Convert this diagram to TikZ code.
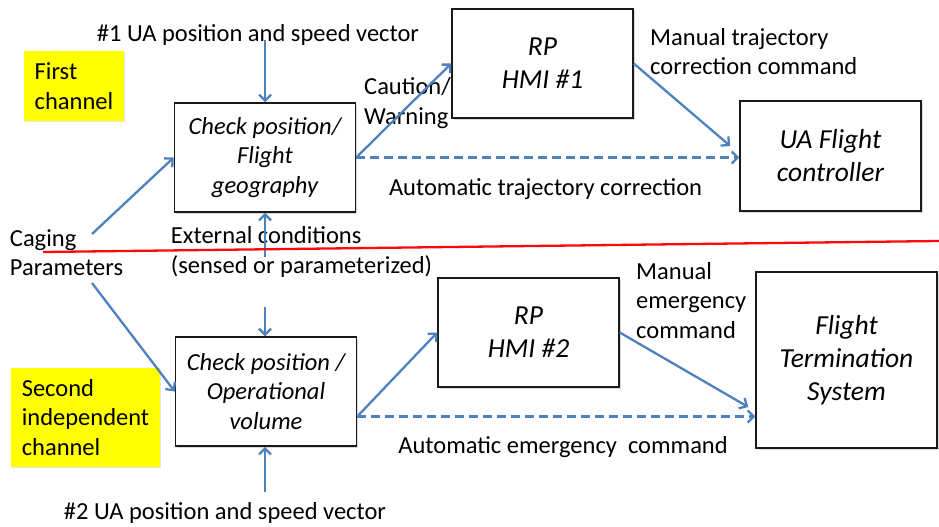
\documentclass[tikz,border=0pt]{standalone}
\usepackage{fontspec}
\setmainfont{Carlito}
\usetikzlibrary{
  arrows.meta,
  calc,
  shadows
}
\definecolor{cageBlue}{RGB}{79,129,189}
\definecolor{cageRed}{RGB}{250,10,10}
\definecolor{cageYellow}{RGB}{255,255,0}
\definecolor{cageLine}{RGB}{25,25,25}
\newcommand{\cagefont}{\fontsize{24.5}{29.5}\selectfont}
\newcommand{\cagebigfont}{\fontsize{27.5}{33}\selectfont}
\tikzset{
  cagebox/.style={
    draw=cageLine,
    line width=1.5pt,
    fill=white,
    align=center,
    minimum width=181pt,
    minimum height=109pt,
    inner sep=2pt,
    font=\cagefont\itshape,
    drop shadow={shadow xshift=1.5pt, shadow yshift=-1.5pt, opacity=0.3}
  },
  cagebig/.style={
    cagebox,
    font=\cagebigfont\itshape
  },
  chantag/.style={
    fill=cageYellow,
    align=left,
    inner sep=0pt,
    font=\cagefont,
    drop shadow={shadow xshift=1pt, shadow yshift=-1pt, opacity=0.2}
  },
  cagetext/.style={
    align=left,
    inner sep=0pt,
    font=\cagefont
  },
  cagearrow/.style={
    -{Straight Barb[length=6pt,width=12pt]},
    line width=2.3pt,
    draw=cageBlue
  },
  cagedashed/.style={
    cagearrow,
    dash pattern=on 9pt off 5pt
  }
}

\begin{document}
\begin{tikzpicture}[x=1pt, y=-1pt]
  \useasboundingbox (0,0) rectangle (939,527);

  % channel tags
  \node[chantag, minimum width=100pt, minimum height=70pt] (tag1) at (74,86)
    {First\\channel};
  \node[chantag, minimum width=149pt, minimum height=99pt] (tag2) at (85.5,417.5)
    {Second\\independent\\channel};

  % first channel
  \node[cagebox] (chk1) at (265,157.5) {Check position/\\Flight\\geography};
  \node[cagebig] (hmi1) at (542.5,63.5) {RP\\HMI \#1};
  \node[cagebig, minimum height=110pt] (fc) at (830.5,156) {UA Flight\\controller};

  % second channel
  \node[cagebox] (chk2) at (266,391.5) {Check position /\\Operational\\volume};
  \node[cagebig] (hmi2) at (528.5,332.5) {RP\\HMI \#2};
  \node[cagebig, minimum height=176pt] (fts) at (846.5,360)
    {Flight\\Termination\\System};

  % labels
  \node[cagetext] (pos1) at (258,35) {\#1 UA position and speed vector};
  \node[cagetext] (pos2) at (225,513) {\#2 UA position and speed vector};
  \node[cagetext] (cage) at (66.5,252.5) {Caging\\Parameters};
  \node[cagetext] (ext) at (301.5,252) {External conditions\\(sensed or parameterized)};
  \node[cagetext, anchor=west] (warn) at (364,103) {Caution/\\Warning};
  \node[cagetext] (auto1) at (545.5,189) {Automatic trajectory correction};
  \node[cagetext, anchor=west] (man1) at (650,51.5) {Manual trajectory\\correction command};
  \node[cagetext, anchor=west] (man2) at (636,300.5) {Manual\\emergency\\command};
  \node[cagetext] (auto2) at (563,447) {Automatic emergency\ \ command};

  % inputs
  \coordinate (in1) at (265,40);
  \coordinate (ex1) at (265,257);
  \coordinate (ex2) at (265,307);
  \coordinate (in2) at (265,492);
  \coordinate (cg1) at (92,234);
  \coordinate (cg2) at (92,283);
  \draw[cagearrow] (in1) -- (in1 |- chk1.north);
  \draw[cagearrow] (ex1) -- (ex1 |- chk1.south);
  \draw[cagearrow] (ex2) -- (ex2 |- chk2.north);
  \draw[cagearrow] (in2) -- (in2 |- chk2.south);
  \draw[cagearrow] (cg1) -- (chk1.west);
  \draw[cagearrow] (cg2) -- (chk2.west);

  % outputs
  \draw[cagearrow] (chk1.east) -- (hmi1.west);
  \draw[cagedashed] (chk1.east) -- (chk1.east -| fc.west);
  \draw[cagearrow] (hmi1.east) -- ([xshift=-9pt,yshift=10pt]fc.west);
  \coordinate (out2) at ([yshift=-25pt]chk2.east);
  \draw[cagearrow] (out2) -- (hmi2.west);
  \draw[cagedashed] (out2) -- (out2 -| fts.west);
  \draw[cagearrow] (hmi2.east) -- ([xshift=-7pt,yshift=-47pt]fts.west);

  % channel separation
  \coordinate (sep1) at (43,252);
  \coordinate (sep2) at (939,241);
  \draw[cageRed, line width=2.3pt] (sep1) -- (sep2);
\end{tikzpicture}
\end{document}
